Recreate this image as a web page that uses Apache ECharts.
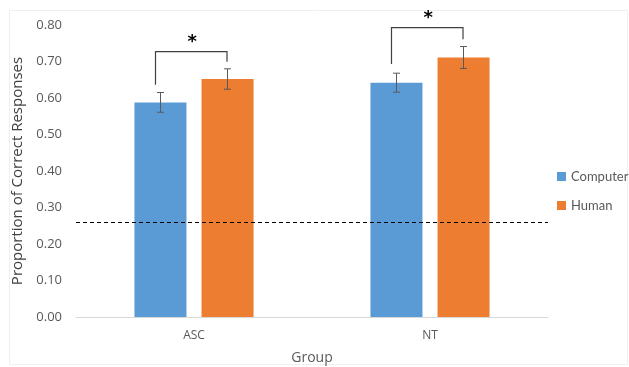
<!DOCTYPE html>
<html>
<head>
<meta charset="utf-8">
<script src="https://cdn.jsdelivr.net/npm/echarts@6/dist/echarts.min.js"></script>
<style>html,body{margin:0;padding:0;background:#fff;}#c{width:629px;height:367px;}</style>
</head>
<body>
<div id="c"></div>
<script>
// ---- data ----
var groups = ['ASC', 'NT'];
var seriesNames = ['Computer', 'Human'];
var computerMeans = [0.588, 0.642];
var humanMeans = [0.652, 0.711];
var computerErr = [0.027, 0.026];
var humanErr = [0.028, 0.030];
var chanceLevel = 0.255;
var yTicks = [0, 0.1, 0.2, 0.3, 0.4, 0.5, 0.6, 0.7, 0.8];
// brackets: [group, leftBottom, rightBottom, top, starY]
var brackets = [
  [0, 0.636, 0.699, 0.727, 0.753],
  [1, 0.693, 0.761, 0.793, 0.818]
];

var chart = echarts.init(document.getElementById('c'), null, {renderer: 'canvas'});
var FONT = 'Open Sans';
var GREY = '#595959';
var BAR_W = 52, BAR_OFF = 33.5;

function errSeries(means, errs, off) {
  return {
    type: 'custom',
    silent: true,
    z: 5,
    data: means.map(function (m, i) { return [i, m, errs[i]]; }),
    renderItem: function (params, api) {
      var c = api.coord([api.value(0), api.value(1)]);
      var x = c[0] + off;
      var top = api.coord([api.value(0), api.value(1) + api.value(2)])[1];
      var bot = api.coord([api.value(0), api.value(1) - api.value(2)])[1];
      var s = {stroke: '#595959', lineWidth: 1};
      return {type: 'group', children: [
        {type: 'line', shape: {x1: x, y1: top, x2: x, y2: bot}, style: s},
        {type: 'line', shape: {x1: x - 3.5, y1: top, x2: x + 3.5, y2: top}, style: s},
        {type: 'line', shape: {x1: x - 3.5, y1: bot, x2: x + 3.5, y2: bot}, style: s}
      ]};
    }
  };
}

var option = {
  backgroundColor: '#fff',
  animation: false,
  textStyle: {fontFamily: FONT},
  graphic: [{
    type: 'rect', shape: {x: 9.5, y: 10.5, width: 618, height: 354},
    style: {fill: 'none', stroke: '#f0f0f0', lineWidth: 1}, silent: true, z: -10
  }],
  grid: {left: 76, right: 81, top: 25, bottom: 50, containLabel: false, outerBoundsMode: 'none'},
  legend: {
    orient: 'vertical', left: 557, top: 170, padding: 0,
    itemWidth: 9, itemHeight: 9, itemGap: 16, icon: 'rect',
    data: seriesNames,
    textStyle: {fontFamily: 'Lato', fontSize: 13, color: GREY}
  },
  xAxis: {
    type: 'category', data: groups,
    name: 'Group', nameLocation: 'middle', nameGap: 34,
    nameTextStyle: {fontFamily: FONT, fontSize: 14, color: GREY},
    axisLine: {lineStyle: {color: '#d9d9d9', width: 1}},
    axisTick: {show: false},
    axisLabel: {fontFamily: FONT, fontSize: 12, color: GREY, margin: 13}
  },
  yAxis: {
    type: 'value', min: yTicks[0], max: yTicks[yTicks.length - 1], interval: 0.1,
    name: 'Proportion of Correct Responses', nameLocation: 'middle', nameGap: 49,
    nameTextStyle: {fontFamily: FONT, fontSize: 15, color: '#404040'},
    axisLine: {show: false}, axisTick: {show: false},
    splitLine: {show: false},
    axisLabel: {fontFamily: FONT, fontSize: 13, color: GREY, margin: 14,
      formatter: function (v) { return v.toFixed(2); }}
  },
  series: [
    {
      name: seriesNames[0], type: 'bar', data: computerMeans,
      barWidth: BAR_W, barGap: '29%',
      itemStyle: {color: '#5b9bd5'},
      markLine: {
        silent: true, symbol: 'none', label: {show: false},
        lineStyle: {color: '#000', type: [4, 3], width: 1},
        data: [{yAxis: chanceLevel}]
      }
    },
    {
      name: seriesNames[1], type: 'bar', data: humanMeans,
      barWidth: BAR_W,
      itemStyle: {color: '#ed7d31'}
    },
    errSeries(computerMeans, computerErr, -BAR_OFF),
    errSeries(humanMeans, humanErr, BAR_OFF),
    {
      type: 'custom', silent: true, z: 6,
      data: brackets,
      renderItem: function (params, api) {
        var g = api.value(0);
        var cx = api.coord([g, 0])[0];
        var xl = cx - 38.5, xr = cx + 33;
        var yl = api.coord([g, api.value(1)])[1];
        var yr = api.coord([g, api.value(2)])[1];
        var yt = api.coord([g, api.value(3)])[1];
        var ys = api.coord([g, api.value(4)])[1];
        return {type: 'group', children: [
          {type: 'polyline', shape: {points: [[xl, yl], [xl, yt], [xr, yt], [xr, yr]]},
            style: {stroke: '#404040', lineWidth: 1.2, fill: 'none'}},
          {type: 'text', x: (xl + xr) / 2 + 1, y: ys,
            style: {text: '*', fontFamily: 'DejaVu Sans', fontSize: 18, fontWeight: 'bold',
              fill: '#000', align: 'center', verticalAlign: 'middle'}}
        ]};
      }
    }
  ]
};
chart.setOption(option);
</script>
</body>
</html>
